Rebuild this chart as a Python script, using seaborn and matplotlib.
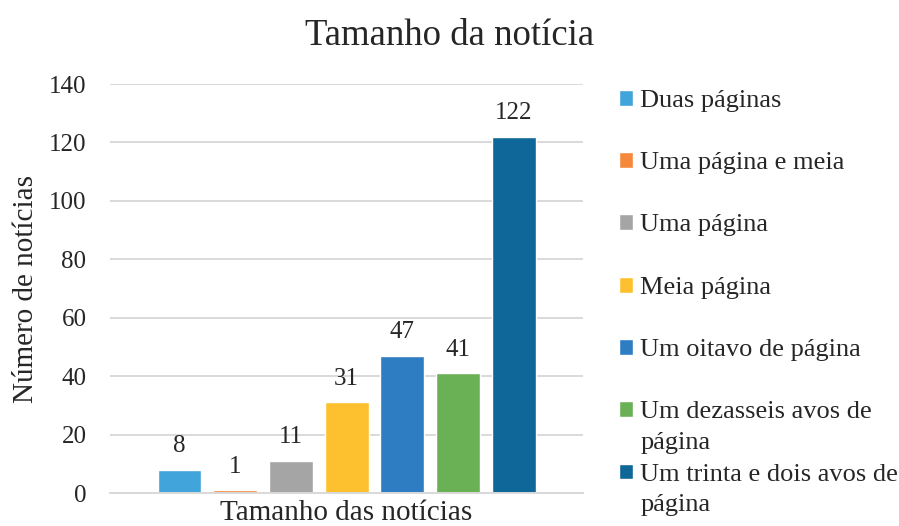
import pandas as pd
import matplotlib
matplotlib.use('Agg')
import matplotlib.pyplot as plt
from matplotlib.patches import Patch
import seaborn as sns

# Dados
tipos = ['Duas páginas', 'Uma página e meia', 'Uma página', 'Meia página',
         'Um oitavo de página', 'Um dezasseis avos de página',
         'Um trinta e dois avos de página']
valores = [8, 1, 11, 31, 47, 41, 122]
cores = ['#41A4DA', '#F5883B', '#A5A5A5', '#FDC130', '#2E7CC2', '#6AB155', '#0E6699']
legenda = ['Duas páginas\n', 'Uma página e meia\n', 'Uma página\n', 'Meia página\n',
           'Um oitavo de página\n', 'Um dezasseis avos de\npágina',
           'Um trinta e dois avos de\npágina']
grupo = 'Tamanho das notícias'

df = pd.DataFrame({'grupo': [grupo] * len(tipos), 'tipo': tipos, 'valor': valores})

sns.set_style('white')
plt.rcParams['font.family'] = ['Liberation Serif', 'DejaVu Serif']

fig = plt.figure(figsize=(8.99, 5.26), dpi=100)
ax = fig.add_axes([0.1224, 0.0627, 0.5261, 0.7776])

sns.barplot(data=df, x='grupo', y='valor', hue='tipo', hue_order=tipos,
            palette=cores, width=0.824, gap=0.21, saturation=1,
            legend=False, ax=ax)

for c in ax.containers:
    ax.bar_label(c, padding=9, fontsize=18)

ax.set_ylim(0, 140)
ax.set_xlim(-0.5, 0.5)
ax.set_yticks(range(0, 141, 20))
ax.tick_params(axis='y', labelsize=18, length=0, pad=17)
ax.tick_params(axis='x', labelsize=21, length=0, pad=5)
ax.yaxis.grid(True, color='#D9D9D9', linewidth=1.4)
ax.set_axisbelow(True)
for s in ['top', 'right', 'left']:
    ax.spines[s].set_visible(False)
ax.spines['bottom'].set_color('#D9D9D9')
ax.spines['bottom'].set_linewidth(1.4)
ax.set_xlabel('')
ax.set_ylabel('Número de notícias', fontsize=21, labelpad=7)

fig.suptitle('Tamanho da notícia', fontsize=26.5, x=0.5, y=0.965)

handles = [Patch(facecolor=c) for c in cores]
leg = fig.legend(handles, legenda, loc='upper left', bbox_to_anchor=(0.6885, 0.829),
                 frameon=False, fontsize=19, handlelength=0.55, handleheight=0.55,
                 handletextpad=0.25, labelspacing=0.37, borderpad=0, borderaxespad=0)
for t in leg.get_texts():
    t.set_linespacing(1.5)
for col in leg._legend_handle_box.get_children():
    for item in col.get_children():
        item.align = 'top'

fig.savefig('out.png', dpi=100)
